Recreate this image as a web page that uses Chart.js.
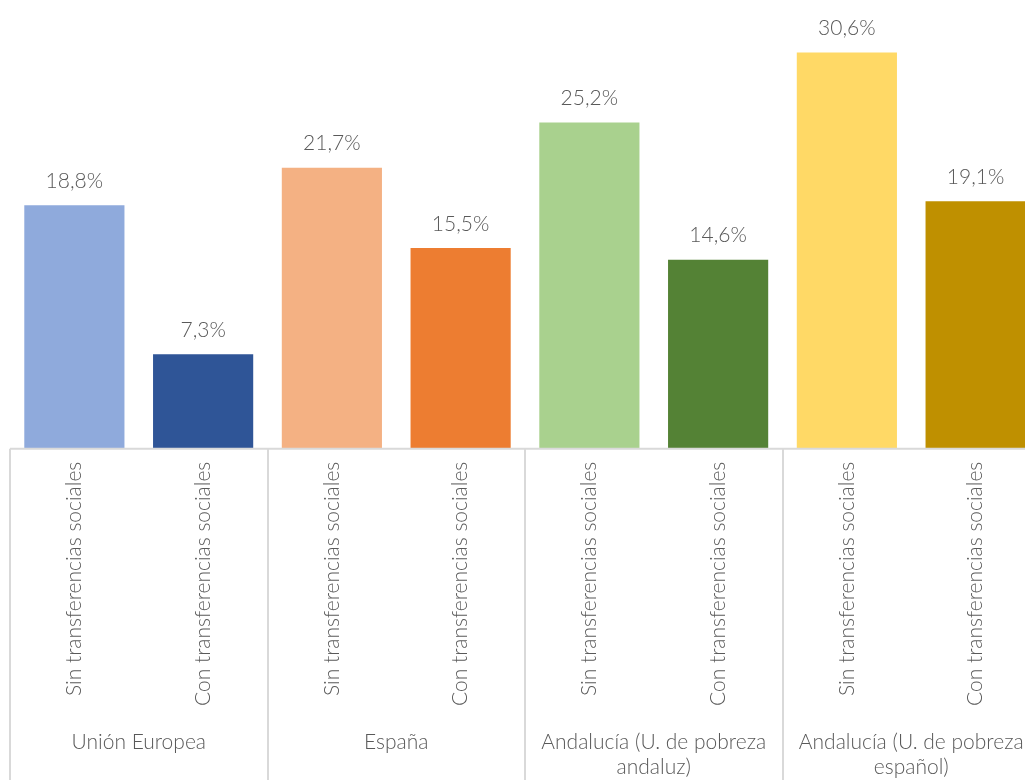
<!DOCTYPE html>
<html>
<head>
<meta charset="utf-8">
<script src="https://cdn.jsdelivr.net/npm/chart.js@4"></script>
<style>
  body { margin: 0; overflow: hidden; background: #fff; }
  #wrap { width: 1040px; height: 780px; }
</style>
</head>
<body>
<div id="wrap"><canvas id="myChart" width="1040" height="780"></canvas></div>
<script>
// bar labels (lower level) and group labels (upper level)
const barLabels = [
  'Sin transferencias sociales', 'Con transferencias sociales',
  'Sin transferencias sociales', 'Con transferencias sociales',
  'Sin transferencias sociales', 'Con transferencias sociales',
  'Sin transferencias sociales', 'Con transferencias sociales'
];
const groupLabels = [
  ['Unión Europea'],
  ['España'],
  ['Andalucía (U. de pobreza', 'andaluz)'],
  ['Andalucía (U. de pobreza', 'español)']
];
const values = [18.8, 7.3, 21.7, 15.5, 25.2, 14.6, 30.6, 19.1];
const barColors = ['#8FAADC', '#2F5597', '#F4B183', '#ED7D31', '#A9D18E', '#548235', '#FFD966', '#BF9000'];

const FONT = "'Lato', 'Roboto', sans-serif";
const GRAY = '#595959';
const LINE = '#d9d9d9';

// value labels above bars + group labels and separators under the axis
const extras = {
  id: 'extras',
  afterDatasetsDraw(chart) {
    const ctx = chart.ctx;
    const meta = chart.getDatasetMeta(0);
    ctx.save();
    ctx.fillStyle = GRAY;
    ctx.font = '300 21px ' + FONT;
    ctx.textAlign = 'center';
    ctx.textBaseline = 'middle';
    meta.data.forEach(function(bar, i) {
      const txt = values[i].toFixed(1).replace('.', ',') + '%';
      ctx.fillText(txt, bar.x, bar.y - 24);
    });
    ctx.restore();
  },
  afterDraw(chart) {
    const ctx = chart.ctx;
    const x = chart.scales.x;
    const area = chart.chartArea;
    const step = x.getPixelForValue(1) - x.getPixelForValue(0);
    ctx.save();
    ctx.strokeStyle = LINE;
    ctx.lineWidth = 2;
    // baseline
    ctx.beginPath();
    ctx.moveTo(area.left, area.bottom);
    ctx.lineTo(area.right, area.bottom);
    ctx.stroke();
    // separators
    for (let g = 0; g <= groupLabels.length; g++) {
      const px = Math.round(x.getPixelForValue(g * 2) - step / 2);
      ctx.beginPath();
      ctx.moveTo(px, area.bottom);
      ctx.lineTo(px, chart.height);
      ctx.stroke();
    }
    // group labels
    ctx.fillStyle = GRAY;
    ctx.font = '300 21px ' + FONT;
    ctx.textAlign = 'center';
    ctx.textBaseline = 'middle';
    groupLabels.forEach(function(lines, g) {
      const cx = (x.getPixelForValue(g * 2) + x.getPixelForValue(g * 2 + 1)) / 2;
      lines.forEach(function(t, k) {
        ctx.fillText(t, cx, 742 + k * 25);
      });
    });
    ctx.restore();
  }
};

let myChart;

function draw(ctx) {
  myChart = new Chart(ctx, {
    type: 'bar',
    data: {
      labels: barLabels,
      datasets: [{
        data: values,
        backgroundColor: barColors,
        borderWidth: 0,
        barPercentage: 0.778,
        categoryPercentage: 1
      }]
    },
    options: {
      responsive: false,
      animation: false,
      layout: { padding: { left: 10, right: 0, top: 0, bottom: 61 } },
      plugins: { legend: { display: false }, tooltip: { enabled: false } },
      scales: {
        y: { display: false, min: 0, max: 34.65 },
        x: {
          grid: { display: false, drawTicks: false },
          border: { display: false },
          ticks: {
            color: GRAY,
            font: { family: FONT, size: 21, weight: '300' },
            minRotation: 90,
            maxRotation: 90,
            padding: 13,
            autoSkip: false
          }
        }
      }
    },
    plugins: [extras]
  });
}

window.addEventListener('load', function() {
  draw(document.getElementById('myChart').getContext('2d'));
});
</script>
</body>
</html>
